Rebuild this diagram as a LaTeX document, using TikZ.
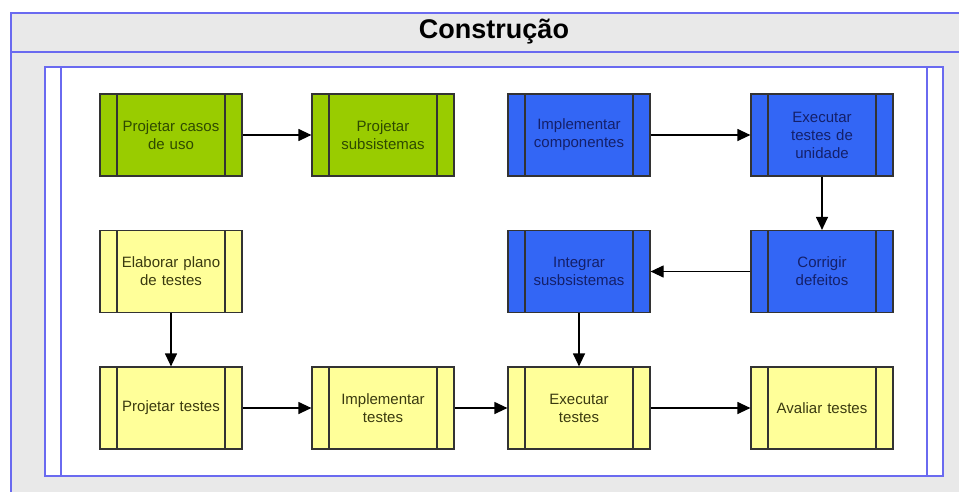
\documentclass[tikz,border=0pt]{standalone}
\usepackage{fontspec}
\setmainfont{Liberation Sans}
\usetikzlibrary{arrows.meta}
\definecolor{frameblue}{HTML}{6A6AF0}
\definecolor{bandgray}{HTML}{E9E9E9}
\definecolor{gfill}{HTML}{99CC00}
\definecolor{gtext}{HTML}{2E4A00}
\definecolor{bfill}{HTML}{3366F5}
\definecolor{btext}{HTML}{14206A}
\definecolor{yfill}{HTML}{FFFF99}
\definecolor{ytext}{HTML}{3A3A10}
\definecolor{boxline}{HTML}{333333}
\tikzset{
  task/.style={draw=boxline, line width=1.2pt, minimum width=142pt, minimum height=82pt,
    inner sep=0pt, align=center, text width=110pt,
    font=\fontsize{15}{18}\selectfont,
    path picture={
      \draw[boxline, line width=1.2pt]
        ([xshift=17pt]path picture bounding box.north west) -- ([xshift=17pt]path picture bounding box.south west)
        ([xshift=-17pt]path picture bounding box.north east) -- ([xshift=-17pt]path picture bounding box.south east);
    }},
  greentask/.style={task, fill=gfill, text=gtext},
  bluetask/.style={task, fill=bfill, text=btext},
  yellowtask/.style={task, fill=yfill, text=ytext},
  flow/.style={draw=black, line width=1.2pt, -{Triangle[length=13pt,width=12pt]}},
  frameline/.style={draw=frameblue, line width=1.4pt}
}
\begin{document}
\begin{tikzpicture}[x=1pt,y=-1pt]
\useasboundingbox (0,0) rectangle (959,491);
% outer frame
\fill[bandgray] (11,13) rectangle (970,500);
\draw[frameline] (970,13) -- (11,13) -- (11,500);
\draw[frameline] (11,52) -- (970,52);
\node[font=\bfseries\fontsize{27}{30}\selectfont] (title) at (494,32) {Construção};
% inner frame
\fill[white] (45,67) rectangle (943,476);
\draw[frameline] (45,67) rectangle (943,476);
\draw[frameline] (61,67) -- (61,476);
\draw[frameline] (927,67) -- (927,476);
% tasks
\node[greentask] (pcu) at (171,135) {Projetar casos\\de uso};
\node[greentask] (psub) at (383,135) {Projetar\\subsistemas};
\node[bluetask] (impc) at (579,135) {Implementar\\componentes};
\node[bluetask] (exu) at (822,135) {Executar\\testes de\\unidade};
\node[yellowtask] (epl) at (171,271.5) {Elaborar plano\\de testes};
\node[bluetask] (ints) at (579,271.5) {Integrar\\susbsistemas};
\node[bluetask] (cor) at (822,271.5) {Corrigir\\defeitos};
\node[yellowtask] (pt) at (171,408) {Projetar testes};
\node[yellowtask] (it) at (383,408) {Implementar\\testes};
\node[yellowtask] (et) at (579,408) {Executar\\testes};
\node[yellowtask] (at) at (822,408) {Avaliar testes};
% connectors
\draw[flow] (pcu) -- (psub);
\draw[flow] (impc) -- (exu);
\draw[flow] (exu) -- (cor);
\draw[flow] (cor) -- (ints);
\draw[flow] (ints) -- (et);
\draw[flow] (epl) -- (pt);
\draw[flow] (pt) -- (it);
\draw[flow] (it) -- (et);
\draw[flow] (et) -- (at);
\end{tikzpicture}
\end{document}
